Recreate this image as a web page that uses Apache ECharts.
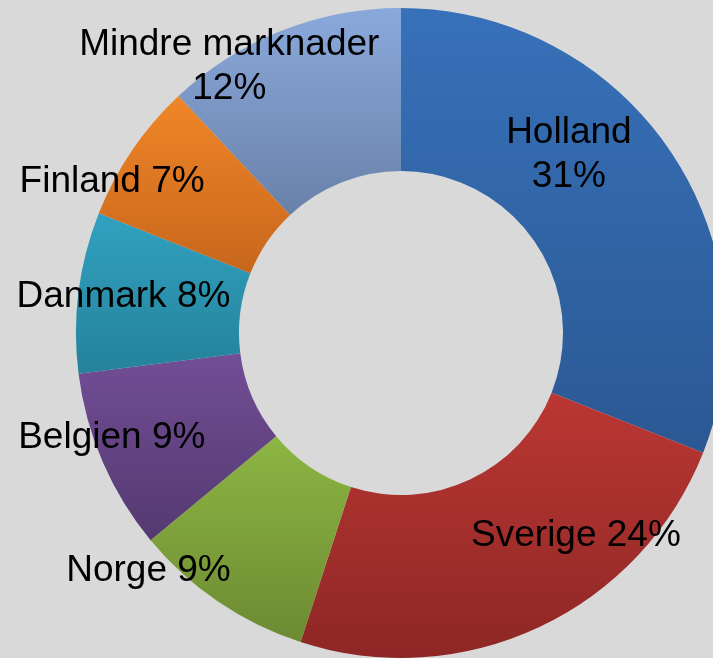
<!DOCTYPE html>
<html>
<head>
<meta charset="utf-8">
<script src="https://cdn.jsdelivr.net/npm/echarts@6/dist/echarts.min.js"></script>
<style>
  html, body { margin: 0; padding: 0; background: #d9d9d9; }
  #chart { width: 713px; height: 658px; }
</style>
</head>
<body>
<div id="chart"></div>
<script>
// markets, clockwise from 12 o'clock
const markets = ['Holland', 'Sverige', 'Norge', 'Belgien', 'Danmark', 'Finland', 'Mindre marknader'];
const shares = [31, 24, 9, 9, 8, 7, 12];

// top / bottom shade of each slice
const topColors = ['#3771b9', '#bb3733', '#8db643', '#724e96', '#31a1c1', '#f08628', '#8aa9db'];
const bottomColors = ['#2b5893', '#8d2725', '#6c8a32', '#543970', '#25829a', '#c7661c', '#6981a9'];

// label placement tweaks (Excel "best fit" style)
const labelShift = [[-36, -40], [70, -20], [-114, 34], [-63, 7], [-33, -5], [-85, -13], [-81, -37]];
const twoLine = [true, false, false, false, false, false, true];

const chart = echarts.init(document.getElementById('chart'));

const data = markets.map((name, i) => ({
  name: name,
  value: shares[i],
  itemStyle: {
    color: new echarts.graphic.LinearGradient(0, 0, 0, 1, [
      { offset: 0, color: topColors[i] },
      { offset: 1, color: bottomColors[i] }
    ])
  },
  label: {
    offset: labelShift[i],
    formatter: twoLine[i] ? '{b}\n{c}%' : '{b} {c}%'
  }
}));

chart.setOption({
  backgroundColor: '#d9d9d9',
  animation: false,
  series: [{
    type: 'pie',
    center: [401, 333],
    radius: [162, 325],
    startAngle: 90,
    clockwise: true,
    avoidLabelOverlap: false,
    label: {
      show: true,
      position: 'inside',
      color: '#000',
      fontFamily: 'Liberation Sans, Arial, sans-serif',
      fontSize: 37,
      lineHeight: 44,
      align: 'center'
    },
    labelLine: { show: false },
    itemStyle: { borderWidth: 0 },
    emphasis: { disabled: true },
    data: data
  }]
});
</script>
</body>
</html>
